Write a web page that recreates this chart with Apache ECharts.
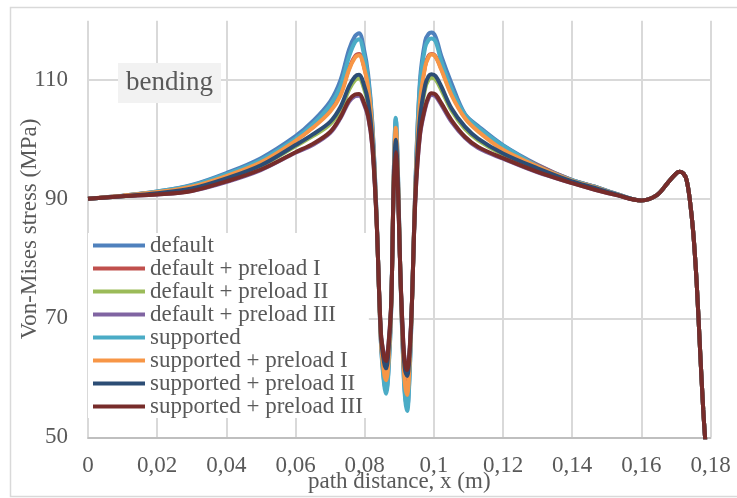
<!DOCTYPE html>
<html>
<head>
<meta charset="utf-8">
<script src="https://cdn.jsdelivr.net/npm/echarts@6/dist/echarts.min.js"></script>
<style>
    html, body { margin: 0; padding: 0; background: #fff; }
    #chart { width: 737px; height: 498px; }
</style>
</head>
<body>
<div id="chart"></div>
<script>
    // path distance x (m), shared by every curve
    const pathX = [0, 0.01, 0.02, 0.03, 0.04, 0.05, 0.06, 0.065, 0.07, 0.073, 0.0755, 0.0772, 0.0784,
        0.0797, 0.0810, 0.0822, 0.0834, 0.0847, 0.0856, 0.0862,
        0.0869, 0.0877, 0.0884, 0.0890,
        0.0896, 0.0903, 0.0912, 0.0917, 0.0923,
        0.0929, 0.0936, 0.0947, 0.0960, 0.0975, 0.0985, 0.0993,
        0.1005, 0.1022, 0.1051, 0.109, 0.1128, 0.12, 0.13, 0.14,
        0.1466, 0.1528,
        0.16, 0.1645, 0.1677, 0.17, 0.1711, 0.1722, 0.1731, 0.174, 0.175, 0.176, 0.177, 0.1779, 0.1786];

    // von-mises stress (MPa) up to x = 0.1528
    const stressDefault = [90.1, 90.6, 91.3, 92.4, 94.4, 96.9, 100.6, 103.1, 106.4, 110.0, 115.2, 117.4, 117.9,
        115.5, 111.0, 103.0, 88.0, 66.0, 59.5, 57.8,
        61.5, 72.0, 94.0, 103.5,
        95.0, 78.0, 62.0, 57.0, 55.0,
        59.5, 71.0, 93.0, 110.0, 116.6, 117.8, 118.0,
        117.3, 114.0, 109.5, 104.3, 102.3, 99.1, 95.8, 93.2,
        92.1, 90.9];
    const stressDefaultP1 = [90.1, 90.6, 91.2, 92.2, 94.1, 96.4, 99.9, 102.1, 104.9, 107.7, 112.0, 114.0, 114.4,
        112.6, 109.0, 101.6, 87.6, 66.5, 61.0, 59.8,
        63.0, 72.5, 93.4, 101.8,
        94.0, 78.0, 63.0, 59.0, 57.5,
        61.5, 71.2, 92.2, 106.5, 112.5, 114.1, 114.4,
        114.0, 111.9, 107.8, 104.0, 101.9, 98.8, 95.7, 93.2,
        92.1, 90.9];
    const stressDefaultP2 = [90.1, 90.5, 91.0, 91.7, 93.4, 95.6, 98.9, 100.6, 102.6, 105.0, 108.4, 110.0, 110.3,
        108.8, 105.9, 100.0, 87.2, 67.1, 62.8, 61.8,
        64.8, 72.8, 92.7, 99.8,
        93.0, 78.0, 64.7, 61.4, 60.5,
        63.2, 71.4, 91.2, 103.1, 108.6, 110.1, 110.4,
        110.1, 108.3, 104.9, 101.8, 99.9, 97.5, 95.0, 92.9,
        91.8, 90.8];
    const stressDefaultP3 = [90.1, 90.5, 90.8, 91.4, 92.9, 94.9, 97.8, 99.1, 101.1, 103.6, 106.4, 107.3, 107.4,
        106.1, 103.8, 98.8, 87.0, 67.6, 63.9, 63.2,
        65.9, 73.1, 91.8, 97.6,
        91.8, 78.0, 65.8, 62.6, 61.6,
        64.1, 71.7, 90.3, 100.7, 105.2, 107.0, 107.5,
        107.3, 105.8, 103.0, 100.3, 98.6, 96.8, 94.5, 92.7,
        91.6, 90.7];
    const stressSupported = [90.1, 90.6, 91.3, 92.3, 94.2, 96.6, 100.2, 102.6, 105.8, 109.0, 114.0, 116.4, 116.9,
        114.6, 110.3, 102.6, 87.9, 65.8, 59.0, 57.3,
        61.0, 71.8, 94.0, 103.7,
        95.2, 77.8, 61.5, 56.4, 54.4,
        59.0, 70.8, 93.0, 109.3, 115.5, 116.8, 117.0,
        116.5, 113.1, 108.6, 104.2, 102.1, 99.0, 95.6, 93.2,
        92.1, 90.9];
    const stressSupportedP1 = [90.1, 90.6, 91.2, 92.1, 93.9, 96.2, 99.8, 102.0, 104.7, 107.4, 111.8, 113.8, 114.2,
        112.4, 108.8, 101.5, 87.5, 66.3, 60.8, 59.6,
        62.8, 72.4, 93.4, 102.0,
        94.2, 77.9, 62.8, 58.7, 57.1,
        61.2, 71.1, 92.2, 106.3, 112.3, 113.9, 114.3,
        113.9, 111.7, 107.5, 103.6, 101.4, 98.3, 95.5, 93.1,
        92.0, 90.8];
    const stressSupportedP2 = [90.1, 90.5, 91.0, 91.8, 93.5, 95.7, 99.1, 100.9, 103.0, 105.5, 109.0, 110.6, 110.9,
        109.4, 106.4, 100.3, 87.3, 67.0, 62.6, 61.6,
        64.6, 72.8, 92.8, 100.0,
        93.2, 78.0, 64.5, 61.2, 60.3,
        63.0, 71.4, 91.3, 103.6, 109.2, 110.7, 111.0,
        110.7, 108.9, 105.3, 102.2, 100.2, 97.7, 95.2, 93.0,
        91.9, 90.8];
    const stressSupportedP3 = [90.1, 90.5, 90.8, 91.4, 93.0, 95.0, 97.9, 99.3, 101.3, 103.8, 106.7, 107.6, 107.7,
        106.4, 104.0, 99.0, 87.0, 67.5, 63.6, 62.8,
        65.6, 73.0, 92.0, 97.9,
        92.0, 78.0, 65.5, 62.3, 61.3,
        63.8, 71.6, 90.5, 101.0, 105.5, 107.3, 107.8,
        107.6, 106.1, 103.3, 100.5, 98.8, 96.9, 94.6, 92.7,
        91.6, 90.7];
    // from x = 0.16 on all curves lie on top of each other
    const stressTail = [89.8, 90.7, 92.8, 94.3, 94.6, 94.3, 93.2, 90.0, 84.5, 76.0, 64.5, 54.6, 48.5];

    const seriesNames = ['default', 'default + preload I', 'default + preload II', 'default + preload III',
        'supported', 'supported + preload I', 'supported + preload II', 'supported + preload III'];
    const seriesValues = [stressDefault, stressDefaultP1, stressDefaultP2, stressDefaultP3,
        stressSupported, stressSupportedP1, stressSupportedP2, stressSupportedP3];
    const yTicks = [50, 70, 90, 110];

    const colors = ['#4f81bd', '#c0504d', '#9bbb59', '#8064a2', '#4bacc6', '#f79646', '#2c4d75', '#772c2a'];
    const font = "'Liberation Serif', 'Times New Roman', serif";
    const textGrey = '#595959';

    let myChart = echarts.init(document.getElementById('chart'));

    let series = seriesNames.map((name, i) => {
        let vals = seriesValues[i].concat(stressTail);
        return {
            name: name,
            type: 'line',
            data: pathX.map((x, j) => [x, vals[j]]),
            symbol: 'none',
            showSymbol: false,
            smooth: 0.35,
            lineStyle: {width: 4, color: colors[i]},
            itemStyle: {color: colors[i]}
        };
    });

    let option = {
        animation: false,
        backgroundColor: '#fff',
        title: {
            text: 'bending',
            left: 118,
            top: 63,
            padding: [5, 8, 5, 8],
            backgroundColor: '#f2f2f2',
            textStyle: {fontFamily: font, fontSize: 27, lineHeight: 30, fontWeight: 'normal', color: textGrey}
        },
        legend: {
            orient: 'vertical',
            left: 88,
            top: 233,
            padding: [1, 6, 0, 5],
            itemGap: 0,
            itemWidth: 52,
            itemHeight: 4,
            icon: 'rect',
            backgroundColor: '#fff',
            data: seriesNames,
            textStyle: {fontFamily: font, fontSize: 23, lineHeight: 22.7, color: textGrey}
        },
        graphic: [{
            type: 'rect',
            shape: {x: 10.5, y: 7.5, width: 740, height: 489},
            style: {fill: 'none', stroke: '#d9d9d9', lineWidth: 1.5},
            silent: true,
            z: -1
        }],
        grid: {left: 88, right: 26.5, top: 20.7, bottom: 60.7, outerBoundsMode: 'none'},
        xAxis: {
            type: 'value',
            min: 0,
            max: 0.18,
            interval: 0.02,
            name: 'path distance, x (m)',
            nameLocation: 'middle',
            nameGap: 33,
            nameMoveOverlap: false,
            nameTextStyle: {fontFamily: font, fontSize: 23, color: textGrey},
            axisLine: {show: true, lineStyle: {color: '#bfbfbf', width: 2}},
            axisTick: {show: false},
            axisLabel: {
                fontFamily: font, fontSize: 23, color: textGrey, margin: 17,
                formatter: v => String(+v.toFixed(4)).replace('.', ',')
            },
            splitLine: {show: true, lineStyle: {color: '#d9d9d9', width: 2}}
        },
        yAxis: {
            type: 'value',
            min: 50,
            max: 120,
            interval: 20,
            name: 'Von-Mises stress (MPa)',
            nameLocation: 'middle',
            nameGap: 47,
            nameMoveOverlap: false,
            nameTextStyle: {fontFamily: font, fontSize: 23, color: textGrey},
            axisLine: {show: false},
            axisTick: {show: false},
            axisLabel: {
                fontFamily: font, fontSize: 23, color: textGrey, margin: 20,
                formatter: v => yTicks.includes(v) ? String(v) : ''
            },
            splitLine: {
                show: true,
                lineStyle: {color: yTicks.map(() => '#d9d9d9').concat(['rgba(0,0,0,0)']), width: 2}
            }
        },
        series: series
    };

    myChart.setOption(option);
</script>
</body>
</html>
